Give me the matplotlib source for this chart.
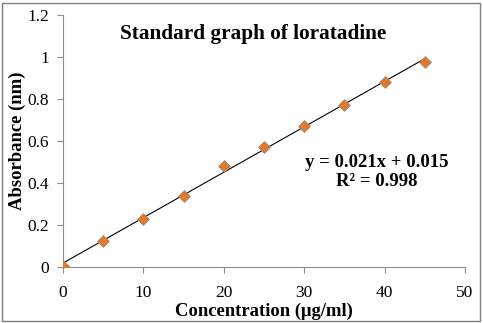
import matplotlib.pyplot as plt
import numpy as np
from matplotlib.patches import Rectangle

# Calibration data for loratadine
concentration = [0, 5, 10, 15, 20, 25, 30, 35, 40, 45]
absorbance = [0.005, 0.125, 0.229, 0.339, 0.483, 0.574, 0.672, 0.774, 0.881, 0.978]
equation_text = 'y = 0.021x + 0.015\nR² = 0.998'

plt.rcParams['font.family'] = ['Liberation Serif', 'DejaVu Serif']

fig = plt.figure(figsize=(4.83, 3.23), dpi=100)
ax = fig.add_axes([63 / 483, 1 - 267 / 323, (465 - 63) / 483, (267 - 15.3) / 323])

# linear trendline through the points
slope, intercept = np.polyfit(concentration, absorbance, 1)
xs = np.array([min(concentration), max(concentration)])
ax.plot(xs, slope * xs + intercept, color='black', linewidth=0.8, zorder=2)

ax.scatter(concentration, absorbance, marker='D', s=36, color='#E07A2C',
           edgecolor='#A08870', linewidth=0.6, zorder=3)

ax.set_xlim(0, 50)
ax.set_ylim(0, 1.2)
ax.set_xticks(np.arange(0, 51, 10))
ax.set_yticks(np.arange(0, 1.21, 0.2))
ax.set_yticklabels(['0', '0.2', '0.4', '0.6', '0.8', '1', '1.2'])

for side in ['top', 'right']:
    ax.spines[side].set_visible(False)
for side in ['left', 'bottom']:
    ax.spines[side].set_color('#8C8C8C')
    ax.spines[side].set_linewidth(0.8)
ax.tick_params(axis='both', colors='#8C8C8C', labelcolor='black', labelsize=12.5,
               length=4, width=0.8, direction='out')
ax.tick_params(axis='x', pad=9)
ax.tick_params(axis='y', pad=6)

ax.set_xlabel('Concentration (μg/ml)', fontsize=13.4, fontweight='bold', labelpad=1)
ax.set_ylabel('Absorbance (nm)', fontsize=13.4, fontweight='bold', labelpad=1)

fig.text(253 / 483, 1 - 34 / 323, 'Standard graph of loratadine', fontsize=15.3,
         fontweight='bold', ha='center', va='center')
fig.text(377 / 483, 1 - 172 / 323, equation_text, fontsize=13.5,
         fontweight='bold', ha='center', va='center', linespacing=1.1)

# outer chart frame
fig.patches.append(Rectangle((2 / 483, 2 / 323), 478 / 483, 318 / 323,
                             transform=fig.transFigure, fill=False,
                             edgecolor='#7F7F7F', linewidth=1.0))

fig.savefig('out.png', dpi=100, facecolor='white')
